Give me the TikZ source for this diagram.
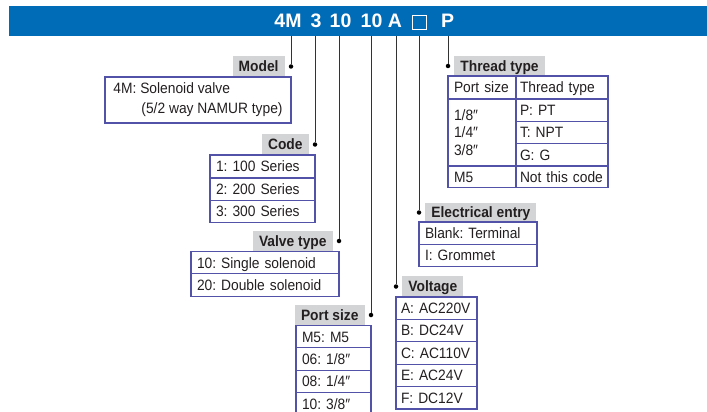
\documentclass[tikz,border=0pt]{standalone}
\usepackage{fontspec}
\setmainfont{Liberation Sans}[FakeStretch=0.92]
\newfontfamily\bannerfont{Liberation Sans}
\frenchspacing
\usetikzlibrary{positioning}
\definecolor{bannercolor}{HTML}{006BB6}
\definecolor{labelcolor}{HTML}{D3D4D6}
\definecolor{cellcolor}{HTML}{5252A8}
\definecolor{leadcolor}{HTML}{333333}
\definecolor{inkcolor}{HTML}{231F20}
\newcommand\inch{″}
\tikzset{
  od banner/.style={fill=bannercolor,inner sep=0pt,outer sep=0pt,anchor=north west},
  od title/.style={text=white,font=\bannerfont\fontsize{19.5}{22}\selectfont\bfseries,anchor=base,inner sep=0pt},
  od label/.style={fill=labelcolor,text=inkcolor,font=\fontsize{15}{18}\selectfont\bfseries,
    minimum height=21pt,inner xsep=6pt,inner ysep=0pt,outer sep=0pt,text height=10.7pt,text depth=0pt},
  od cell/.style={draw=cellcolor,line width=1.1pt,text=inkcolor,font=\fontsize{15}{18}\selectfont,
    minimum height=22.4pt,inner xsep=6pt,inner ysep=0pt,outer sep=0pt,align=left,
    text height=10.7pt,text depth=0pt},
  od lead/.style={leadcolor,line width=.9pt},
  od dot/.style={circle,fill=black,inner sep=0pt,minimum size=4.5pt}
}

\begin{document}
\begin{tikzpicture}[x=1pt,y=-1pt]
  \useasboundingbox (0,0) rectangle (707,412);
  \clip (0,0) rectangle (707,412);
  \node[od banner,minimum width=698pt,minimum height=30pt] (banner) at (9,6) {};
  % order code
  \node[od title] (tmodel) at (288,28) {4M};
  \node[od title] (tcode) at (316,28) {3};
  \node[od title] (tvalve) at (340.5,28) {10};
  \node[od title] (tport) at (371.5,28) {10};
  \node[od title] (tvolt) at (395,28) {A};
  \node[draw=white,line width=.9pt,minimum size=14pt,inner sep=0pt] (telec) at (419,22) {};
  \node[od title] (tthread) at (447.5,28) {P};
  % leads
  \node[od dot] (dmodel) at (291,66.5) {};
  \node[od dot] (dcode) at (315,144.5) {};
  \node[od dot] (dvalve) at (339,241) {};
  \node[od dot] (dport) at (371,315) {};
  \node[od dot] (dvolt) at (396,286.5) {};
  \node[od dot] (delec) at (419,212.5) {};
  \node[od dot] (dthread) at (448,66) {};
  \foreach \d in {dmodel,dcode,dvalve,dport,dvolt,delec,dthread}
    \draw[od lead] (\d) -- (\d |- banner.south);
  % labels
  \node[od label,left=4pt of dmodel] (lmodel) {Model};
  \node[od label,left=4pt of dcode] (lcode) {Code};
  \node[od label,left=4pt of dvalve] (lvalve) {Valve type};
  \node[od label,left=4pt of dport] (lport) {Port size};
  \node[od label,right=4pt of dvolt] (lvolt) {Voltage};
  \node[od label,right=4pt of delec,minimum height=19pt] (lelec) {Electrical entry};
  \node[od label,right=4pt of dthread,minimum height=20pt] (lthread) {Thread type};
  % model
  \node[od cell,anchor=north east,minimum width=186pt,minimum height=46pt,
    font=\fontsize{15}{20}\selectfont,text height={},text depth={}] (bmodel) at (lmodel.south -| dmodel)
    {4M: Solenoid valve\\\hspace*{28pt}(5/2 way NAMUR type)};
  % code
  \node[od cell,anchor=north east,text width=93pt,minimum height=23pt] (code1) at (lcode.south -| dcode) {1: 100 Series};
  \node[od cell,below=0pt of code1,text width=93pt] (code2) {2: 200 Series};
  \node[od cell,below=0pt of code2,text width=93pt] (code3) {3: 300 Series};
  % valve type
  \node[od cell,anchor=north east,text width=136pt] (valve1) at (lvalve.south -| dvalve) {10: Single solenoid};
  \node[od cell,below=0pt of valve1,text width=136pt] (valve2) {20: Double solenoid};
  % port size
  \node[od cell,anchor=north east,text width=63pt] (port1) at (lport.south -| dport) {M5: M5};
  \foreach \t [count=\i from 2,remember=\i as \j (initially 1)] in {06: 1/8\inch,08: 1/4\inch,10: 3/8\inch}
    \node[od cell,below=0pt of port\j,text width=63pt] (port\i) {\t};
  % voltage
  \node[od cell,anchor=north west,text width=71pt,inner xsep=5pt] (volt1) at (lvolt.south -| dvolt) {A: AC220V};
  \foreach \t [count=\i from 2,remember=\i as \j (initially 1)] in {B: DC24V,C: AC110V,E: AC24V,F: DC12V}
    \node[od cell,below=0pt of volt\j,text width=71pt,inner xsep=5pt] (volt\i) {\t};
  % electrical entry
  \node[od cell,anchor=north west,text width=106pt] (elec1) at (lelec.south -| delec) {Blank: Terminal};
  \node[od cell,below=0pt of elec1,text width=106pt] (elec2) {I: Grommet};
  % thread type
  \node[od cell,anchor=north west,text width=56pt,minimum height=23pt] (th1) at (lthread.south -| dthread) {Port size};
  \node[od cell,anchor=north west,text width=84pt,inner xsep=4pt,minimum height=23pt] (th2) at (th1.north east) {Thread type};
  \node[od cell,below=0pt of th1,text width=56pt,minimum height=67pt,
    font=\fontsize{15}{17.5}\selectfont,text height={},text depth={}] (tsize) {1/8\inch\\1/4\inch\\3/8\inch};
  \node[od cell,below=0pt of th2,text width=84pt,inner xsep=4pt,minimum height=22.33pt] (tp) {P: PT};
  \node[od cell,below=0pt of tp,text width=84pt,inner xsep=4pt,minimum height=22.33pt] (tt) {T: NPT};
  \node[od cell,below=0pt of tt,text width=84pt,inner xsep=4pt,minimum height=22.33pt] (tg) {G: G};
  \node[od cell,below=0pt of tsize,text width=56pt,minimum height=21.5pt] (tm5) {M5};
  \node[od cell,below=0pt of tg,text width=84pt,inner xsep=4pt,minimum height=21.5pt] (tnone) {Not this code};
\end{tikzpicture}
\end{document}
